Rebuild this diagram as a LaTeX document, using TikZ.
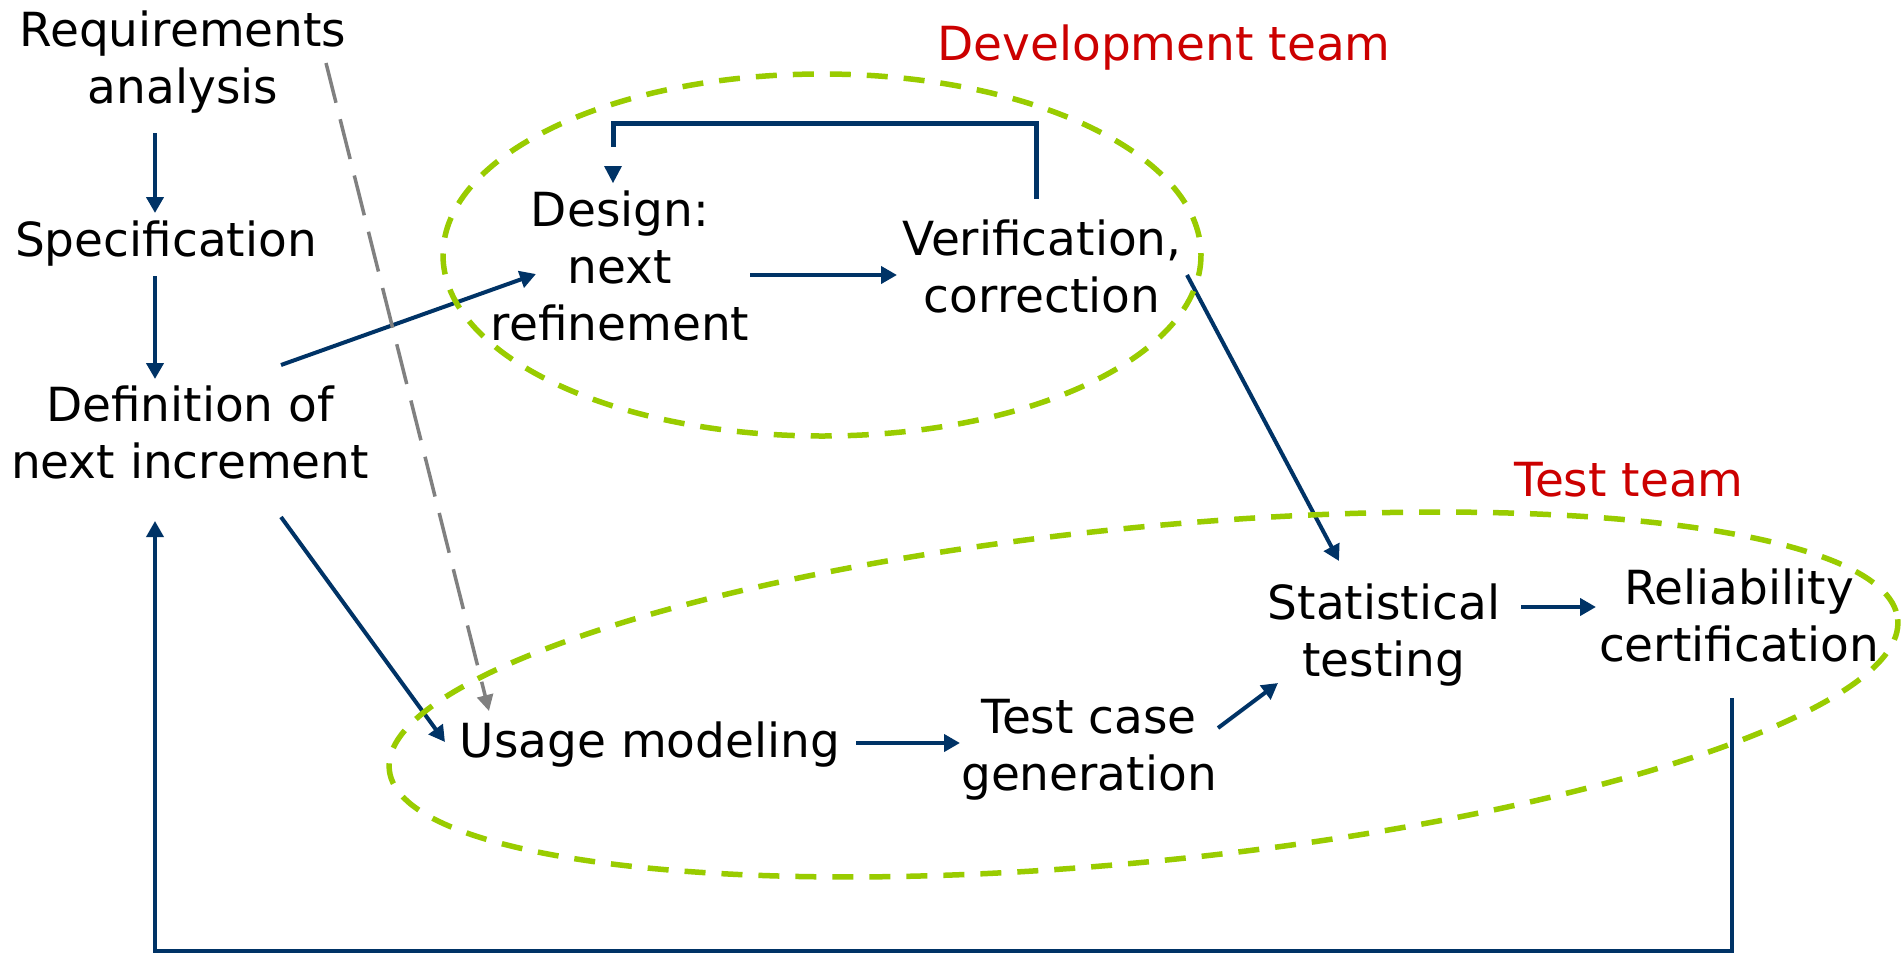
\documentclass[tikz,border=0pt]{standalone}
\usepackage{fontspec}
\setmainfont{DejaVu Sans}
\usetikzlibrary{arrows.meta,calc}
\definecolor{navy}{RGB}{0,51,102}
\definecolor{teamgreen}{RGB}{153,204,0}
\definecolor{teamred}{RGB}{204,0,0}
\definecolor{reqgray}{RGB}{128,128,128}
\begin{document}
\begin{tikzpicture}[x=1pt,y=-1pt,
  every node/.style={inner sep=0pt, font=\fontsize{47}{57}\selectfont, align=center},
  teamlabel/.style={text=teamred},
  flow/.style={draw=navy, line width=4pt, -{Triangle[length=16pt,width=17pt]}},
  backflow/.style={flow, line width=3.5pt},
  loopline/.style={draw=navy, line width=5pt},
  reqflow/.style={draw=reqgray, line width=3.5pt, dash pattern=on 41pt off 17pt,
    -{Triangle[length=16pt,width=16pt]}},
  group/.style={draw=teamgreen, line width=5.5pt, dash pattern=on 21pt off 16pt}
]
\fill[white] (0,0) rectangle (1901,954);
\useasboundingbox (0,0) rectangle (1901,954);

% process steps
\node (req)  at (183,62)   {Requirements\\analysis};
\node (spec) at (166,244)  {Specification};
\node (def)  at (190,432)  {Definition of\\next increment};
\node (des)  at (620,266)  {Design:\\next\\refinement};
\node (ver)  at (1042,266) {Verification,\\correction};
\node (use)  at (650,745)  {Usage modeling};
\node (tcg)  at (1089,750) {Test case\\generation};
\node (stat) at (1384,635) {Statistical\\testing};
\node (rel)  at (1739,615) {Reliability\\certification};

% team captions
\node[teamlabel] (devlbl)  at (1164,48) {Development team};
\node[teamlabel] (testlbl) at (1629,480) {Test team};

% main flow
\draw[flow] ($(req)+(-28,71)$) -- ($(spec)+(-11,-31)$);
\draw[flow] ($(spec)+(-11,32)$) -- ($(def)+(-35,-53)$);
\draw[flow] ($(def)+(91,-67)$) -- ($(des)+(-84,8)$);
\draw[flow] ($(des)+(130,9)$) -- ($(ver)+(-145,9)$);
\draw[flow] ($(ver)+(145,9)$) -- ($(stat)+(-45,-74)$);
\draw[flow] ($(def)+(91,85)$) -- ($(use)+(-205,-3)$);
\draw[flow] ($(use)+(206,-2)$) -- ($(tcg)+(-129,-7)$);
\draw[flow] ($(tcg)+(129,-22)$) -- ($(stat)+(-106,48)$);
\draw[flow] ($(stat)+(137,-28)$) -- ($(rel)+(-143,-8)$);

% refinement loop back to design
\draw[loopline] ($(ver)+(-6,-67)$) |- ($(des)+(-7,-143)$) -- ($(des)+(-7,-119)$);
\fill[navy] ($(des)+(-16,-100)$) -- ($(des)+(2,-100)$) -- ($(des)+(-7,-83)$) -- cycle;

% feedback from certification to the next increment
\draw[backflow] ($(rel)+(-7,83)$) |- ($(def)+(-35,519)$) -- ($(def)+(-35,89)$);

% requirements feed usage modeling
\draw[reqflow] ($(req)+(143,1)$) -- ($(use)+(-161,-34)$);

% team boundaries
\draw[group] (822,255) ellipse [x radius=379, y radius=181];
\draw[group, rotate around={5.7:(1143.5,694.5)}] (1143.5,694.5) ellipse [x radius=758, y radius=167];
\end{tikzpicture}
\end{document}
